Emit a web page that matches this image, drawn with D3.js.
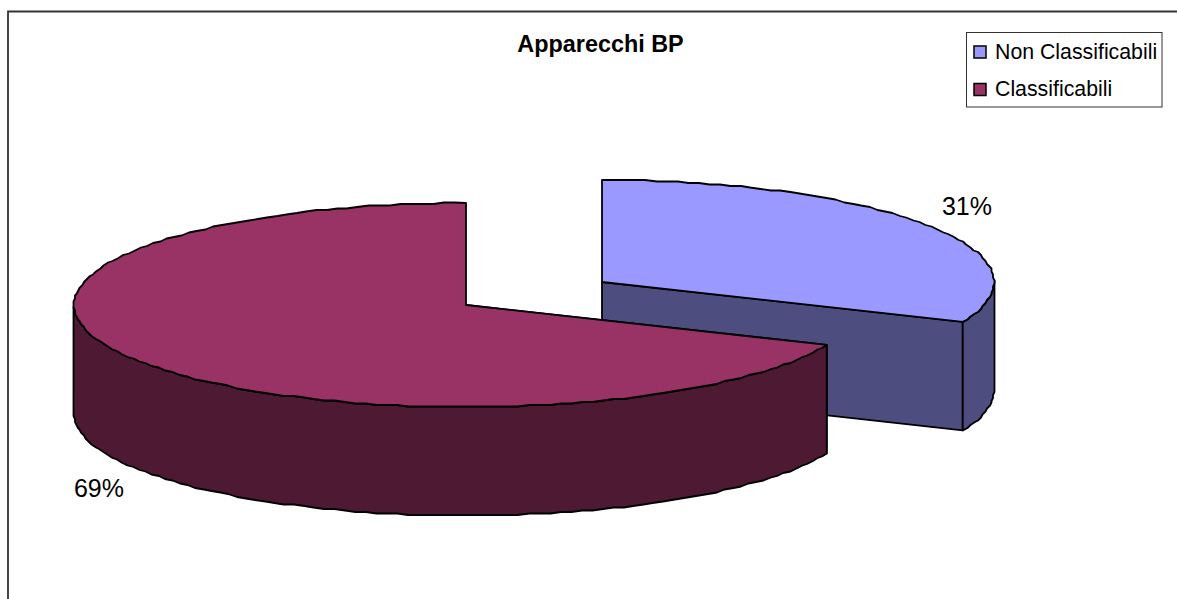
<!DOCTYPE html>
<html>
<head>
<meta charset="utf-8">
<title>Apparecchi BP</title>
<script src="https://cdnjs.cloudflare.com/ajax/libs/d3/7.8.5/d3.min.js"></script>
<style>
  html, body { margin: 0; padding: 0; background: #fff; }
  svg { display: block; font-family: "Liberation Sans", Arial, sans-serif; }
</style>
</head>
<body>
<svg id="chart" width="1177" height="599"></svg>
<script>
var chartTitle = "Apparecchi BP";
var categories = ["Non Classificabili", "Classificabili"];
var shares = [31.4, 68.6];
var topColors = ["#9999FF", "#993366"];
var sideColors = ["#4D4D80", "#4D1933"];

var svg = d3.select("#chart");

// frame, only the top and left edges are inside the picture
svg.append("path")
  .attr("d", "M8,599V11.5H1177")
  .attr("fill", "none")
  .attr("stroke", "#333")
  .attr("stroke-width", 1.8);

svg.append("text")
  .attr("x", 600.5)
  .attr("y", 52)
  .attr("text-anchor", "middle")
  .attr("font-weight", "bold")
  .attr("font-size", 23.4)
  .text(chartTitle);

// tilted pie: unit circle -> screen ellipse
var xScale = d3.scaleLinear().domain([-1, 1]).range([-392, 392]);
var yScale = d3.scaleLinear().domain([-1, 1]).range([-102, 102]);
var depth = 108.5;
var centers = [[602, 282], [466, 305]];

var arcs = d3.pie().sort(null)(shares);

// rim points, snapped to a coarse grid to get the stepped outline of the original
function rim(startAngle, endAngle, cx, cy) {
  var n = Math.max(2, Math.ceil((endAngle - startAngle) / 0.028));
  return d3.range(n + 1).map(function(i) {
    var a = startAngle + (endAngle - startAngle) * i / n;
    var px = cx + xScale(Math.sin(a));
    var py = cy + yScale(-Math.cos(a));
    if (i === 0 || i === n) return [px, py];
    return [Math.round(px / 1.5) * 1.5, Math.round(py / 1.5) * 1.5];
  });
}

var line = d3.line();

function drawSlice(i) {
  var arc = arcs[i], cx = centers[i][0], cy = centers[i][1];
  var g = svg.append("g")
    .attr("stroke", "#000")
    .attr("stroke-width", 1.8)
    .attr("stroke-linejoin", "round");
  var outer = rim(arc.startAngle, arc.endAngle, cx, cy);
  var first = outer[0], last = outer[outer.length - 1];

  function down(p) { return [p[0], p[1] + depth]; }

  // cut faces that look at the viewer
  [first, last].forEach(function(p) {
    if (p[1] > cy || p[0] > cx) {
      g.append("path")
        .attr("d", line([[cx, cy], p, down(p), [cx, cy + depth]]) + "Z")
        .attr("fill", sideColors[i]);
    }
  });

  // outer wall, front half of the rim only
  var front = outer.filter(function(p) { return p[1] >= cy; });
  if (i === 0) front = outer.filter(function(p) { return p[0] >= cx + xScale(0.85) - 1 && p[1] >= cy - 4; });
  g.append("path")
    .attr("d", line(front.concat(front.slice().reverse().map(down))) + "Z")
    .attr("fill", sideColors[i]);

  // top face
  g.append("path")
    .attr("d", line([[cx, cy]].concat(outer)) + "Z")
    .attr("fill", topColors[i]);
}

drawSlice(0);
drawSlice(1);

// percent labels
var labelPos = [[967, 215], [99, 497]];
svg.selectAll("text.pct")
  .data(arcs)
  .enter().append("text")
  .attr("class", "pct")
  .attr("x", function(d, i) { return labelPos[i][0]; })
  .attr("y", function(d, i) { return labelPos[i][1]; })
  .attr("text-anchor", "middle")
  .attr("font-size", 25)
  .text(function(d) { return Math.round(d.data) + "%"; });

// legend
var legend = svg.append("g");
legend.append("rect")
  .attr("x", 966.5).attr("y", 32.5)
  .attr("width", 195.5).attr("height", 74.5)
  .attr("fill", "#fff").attr("stroke", "#333").attr("stroke-width", 1);

var legendY = d3.scalePoint().domain(categories).range([52, 89.5]);
var rows = legend.selectAll("g.row")
  .data(categories)
  .enter().append("g")
  .attr("class", "row")
  .attr("transform", function(d) { return "translate(0," + legendY(d) + ")"; });

rows.append("rect")
  .attr("x", 974).attr("y", -6)
  .attr("width", 12).attr("height", 12)
  .attr("fill", function(d, i) { return topColors[i]; })
  .attr("stroke", "#000").attr("stroke-width", 1.5);

rows.append("text")
  .attr("x", 995).attr("y", 6.5)
  .attr("font-size", 21.3)
  .text(function(d) { return d; });
</script>
</body>
</html>
